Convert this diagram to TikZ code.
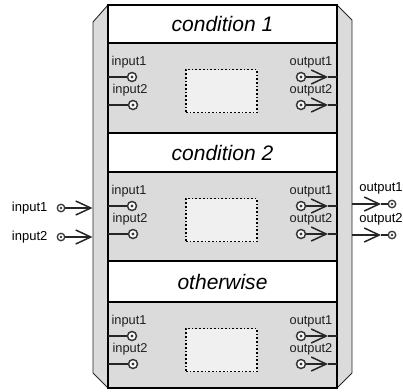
\documentclass[tikz,border=0pt]{standalone}
\usepackage{fontspec}
\setmainfont{Liberation Sans}
\usetikzlibrary{arrows.meta, calc, positioning}

\tikzset{
	wire/.style={line width=1.4pt, black!85},
	chev/.style={wire, -{Straight Barb[length=15pt, width=14pt, line width=1.5pt]}},
	port/.style={circle, draw=black!78, line width=1.5pt, fill=white, minimum size=9pt, inner sep=0pt,
		path picture={\fill[black!78] (path picture bounding box.center) circle (1.7pt);}},
	sport/.style={port, line width=1.3pt, minimum size=7.5pt,
		path picture={\fill[black!78] (path picture bounding box.center) circle (1.4pt);}},
	lbl/.style={inner sep=0pt, text=black!88, font=\fontsize{12.8}{14}\selectfont},
	xlbl/.style={inner sep=0pt, font=\fontsize{13}{14}\selectfont},
	head/.style={inner sep=0pt, font=\fontsize{21}{24}\selectfont\itshape},
	dbox/.style={draw, dotted, line width=1.7pt, fill=black!6, minimum width=71pt, minimum height=43pt, inner sep=0pt}
}

\begin{document}
\begin{tikzpicture}[x=1pt, y=-1pt]
	\useasboundingbox (0,0) rectangle (403,391);

	% shell
	\filldraw[fill=black!14, draw=black!85, line width=0.9pt] (93,22) -- (108,5) -- (337,5) -- (352,20)
		-- (352,373) -- (337,388) -- (108,388) -- (93,373) -- cycle;
	\draw[fill=black!14, line width=1.6pt] (108,5) rectangle (337,388);

	% the three cases
	\foreach \t/\b/\n/\txt in {5/43/1/condition 1, 133/172/2/condition 2, 261/302/3/otherwise} {
		\draw[fill=white, line width=1.6pt] (108,\t) rectangle (337,\b);
		\node[head] (H\n) at (222.5,{(\t+\b)/2}) {\txt};
		\node[dbox] (B\n) at (221.5,\b+48) {};

		\node[port] (I\n1) at (132,\b+34) {};
		\node[port] (I\n2) at (133,\b+62) {};
		\node[lbl] (LI\n1) at ($(I\n1)+(-3,-15)$) {input1};
		\node[lbl] (LI\n2) at ($(I\n2)+(-3,-15)$) {input2};
		\coordinate (LE\n1) at (108,\b+34);
		\coordinate (LE\n2) at (108,\b+62);
		\draw[wire] (LE\n1) -- (I\n1);
		\draw[wire] (LE\n2) -- (I\n2);

		\node[port] (O\n1) at (301,\b+34) {};
		\node[port] (O\n2) at (301,\b+62) {};
		\node[lbl] (LO\n1) at ($(O\n1)+(10,-15)$) {output1};
		\node[lbl] (LO\n2) at ($(O\n2)+(10,-15)$) {output2};
		\coordinate (OT\n1) at (328,\b+34);
		\coordinate (OT\n2) at (328,\b+62);
		\coordinate (RE\n1) at (337,\b+34);
		\coordinate (RE\n2) at (337,\b+62);
		\draw[chev] (O\n1) -- (OT\n1);
		\draw[chev] (O\n2) -- (OT\n2);
		\draw[wire] (OT\n1) -- (RE\n1);
		\draw[wire] (OT\n2) -- (RE\n2);
	}

	% outer inputs
	\node[sport] (XI1) at (61,208) {};
	\node[sport] (XI2) at (61,237) {};
	\node[xlbl, left=9pt of XI1] (LX1) {input1};
	\node[xlbl, left=9pt of XI2] (LX2) {input2};
	\coordinate (XE1) at (92.5,208);
	\coordinate (XE2) at (92.5,237);
	\draw[chev] (XI1) -- (XE1);
	\draw[chev] (XI2) -- (XE2);

	% outer outputs
	\coordinate (YE1) at (352,204);
	\coordinate (YE2) at (352,235);
	\coordinate (YT1) at (381,204);
	\coordinate (YT2) at (381,235);
	\node[sport] (XO1) at (392,204) {};
	\node[sport] (XO2) at (392,235) {};
	\node[xlbl] (LY1) at ($(XO1)+(-11,-16)$) {output1};
	\node[xlbl] (LY2) at ($(XO2)+(-11,-16)$) {output2};
	\draw[chev] (YE1) -- (YT1);
	\draw[chev] (YE2) -- (YT2);
	\draw[wire] (YT1) -- (XO1);
	\draw[wire] (YT2) -- (XO2);
\end{tikzpicture}
\end{document}
